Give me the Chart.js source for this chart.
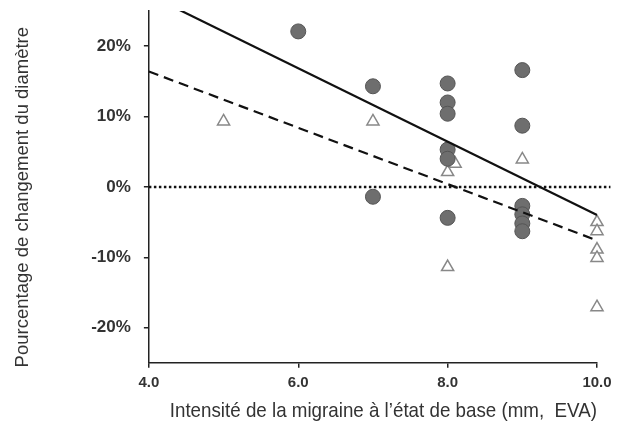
<!DOCTYPE html>
<html>
<head>
<meta charset="utf-8">
<script src="https://cdn.jsdelivr.net/npm/chart.js@4"></script>
<style>
    body { margin: 0; background: #fff; }
    #wrap { width: 623px; height: 429px; }
</style>
</head>
<body>
<div id="wrap"><canvas id="chart" width="623" height="429"></canvas></div>
<script>
// --- Data ---
const circleX = [6, 7, 7, 8, 8, 8, 8, 8, 8, 9, 9, 9, 9, 9, 9];
const circleY = [22.1, 14.3, -1.4, 14.7, 12.0, 10.4, 5.3, 4.0, -4.4, 16.6, 8.7, -2.7, -3.9, -5.2, -6.3];

const triangleX = [5, 7, 8, 8.1, 8, 9, 10, 10, 10, 10, 10];
const triangleY = [9.3, 9.3, 2.1, 3.3, -11.4, 3.9, -5.0, -6.3, -8.9, -10.1, -17.1];

const solidLineX = [4.4, 10];
const solidLineY = [25.2, -4.0];
const dashedLineX = [4.0, 10];
const dashedLineY = [16.4, -7.6];
const zeroLineX = [4.0, 10.18];
const zeroLineY = [0, 0];

const xTicks = [4, 6, 8, 10];
const yTicks = [-20, -10, 0, 10, 20];

function toPoints(xs, ys) {
    return xs.map((x, i) => ({ x: x, y: ys[i] }));
}

// non-breaking spaces nudge the centred titles like in the original
const pad = '\u00a0\u00a0\u00a0\u00a0';

const ctx = document.getElementById('chart').getContext('2d');

new Chart(ctx, {
    type: 'scatter',
    data: {
        datasets: [
            {
                label: 'zero',
                type: 'line',
                data: toPoints(zeroLineX, zeroLineY),
                borderColor: '#111',
                borderWidth: 2.5,
                borderDash: [2.5, 2.5],
                pointRadius: 0,
                clip: false,
                order: 0
            },
            {
                label: 'solid',
                type: 'line',
                data: toPoints(solidLineX, solidLineY),
                borderColor: '#111',
                borderWidth: 2.2,
                pointRadius: 0,
                order: 0
            },
            {
                label: 'dashed',
                type: 'line',
                data: toPoints(dashedLineX, dashedLineY),
                borderColor: '#111',
                borderWidth: 2.2,
                borderDash: [10, 6],
                pointRadius: 0,
                order: 0
            },
            {
                label: 'triangles',
                data: toPoints(triangleX, triangleY),
                pointStyle: 'triangle',
                pointRadius: 7,
                backgroundColor: '#fff',
                borderColor: '#888',
                borderWidth: 1.5,
                clip: false,
                order: 2
            },
            {
                label: 'circles',
                data: toPoints(circleX, circleY),
                pointStyle: 'circle',
                pointRadius: 7.5,
                backgroundColor: '#6e6e6e',
                borderColor: '#555',
                borderWidth: 1,
                clip: false,
                order: 1
            }
        ]
    },
    options: {
        responsive: false,
        animation: false,
        layout: { autoPadding: false, padding: { left: 12, right: 26, top: 11, bottom: 5 } },
        plugins: {
            legend: { display: false },
            tooltip: { enabled: false }
        },
        scales: {
            x: {
                type: 'linear',
                min: 4,
                max: 10,
                afterBuildTicks: (scale) => { scale.ticks = xTicks.map(v => ({ value: v })); },
                border: { display: true, color: '#222', width: 1.5 },
                grid: { drawOnChartArea: false, drawTicks: true, tickLength: 5, color: '#222', lineWidth: 1.5 },
                ticks: {
                    color: '#333',
                    font: { family: 'Liberation Sans, Arial', size: 15, weight: 'bold' },
                    padding: 6,
                    maxRotation: 0,
                    callback: (v) => v.toFixed(1)
                },
                title: {
                    display: true,
                    text: pad + 'Intensité de la migraine à l’état de base (mm,  EVA)',
                    color: '#333',
                    font: { family: 'Liberation Sans, Arial', size: 21 },
                    padding: { top: 1, bottom: 0 }
                }
            },
            y: {
                type: 'linear',
                min: -25,
                max: 25,
                afterBuildTicks: (scale) => { scale.ticks = yTicks.map(v => ({ value: v })); },
                // tick padding would otherwise push the plot top down
                afterFit: (scale) => { scale.paddingTop = 0; scale.paddingBottom = 0; },
                border: { display: true, color: '#222', width: 1.5 },
                grid: { drawOnChartArea: false, drawTicks: true, tickLength: 5, color: '#222', lineWidth: 1.5 },
                ticks: {
                    color: '#333',
                    font: { family: 'Liberation Sans, Arial', size: 17, weight: 'bold' },
                    padding: 13,
                    callback: (v) => v + '%'
                },
                title: {
                    display: true,
                    text: 'Pourcentage de changement du diamètre' + pad,
                    color: '#333',
                    font: { family: 'Liberation Sans, Arial', size: 18.5 },
                    padding: { top: 0, bottom: 44 }
                }
            }
        }
    }
});
</script>
</body>
</html>
